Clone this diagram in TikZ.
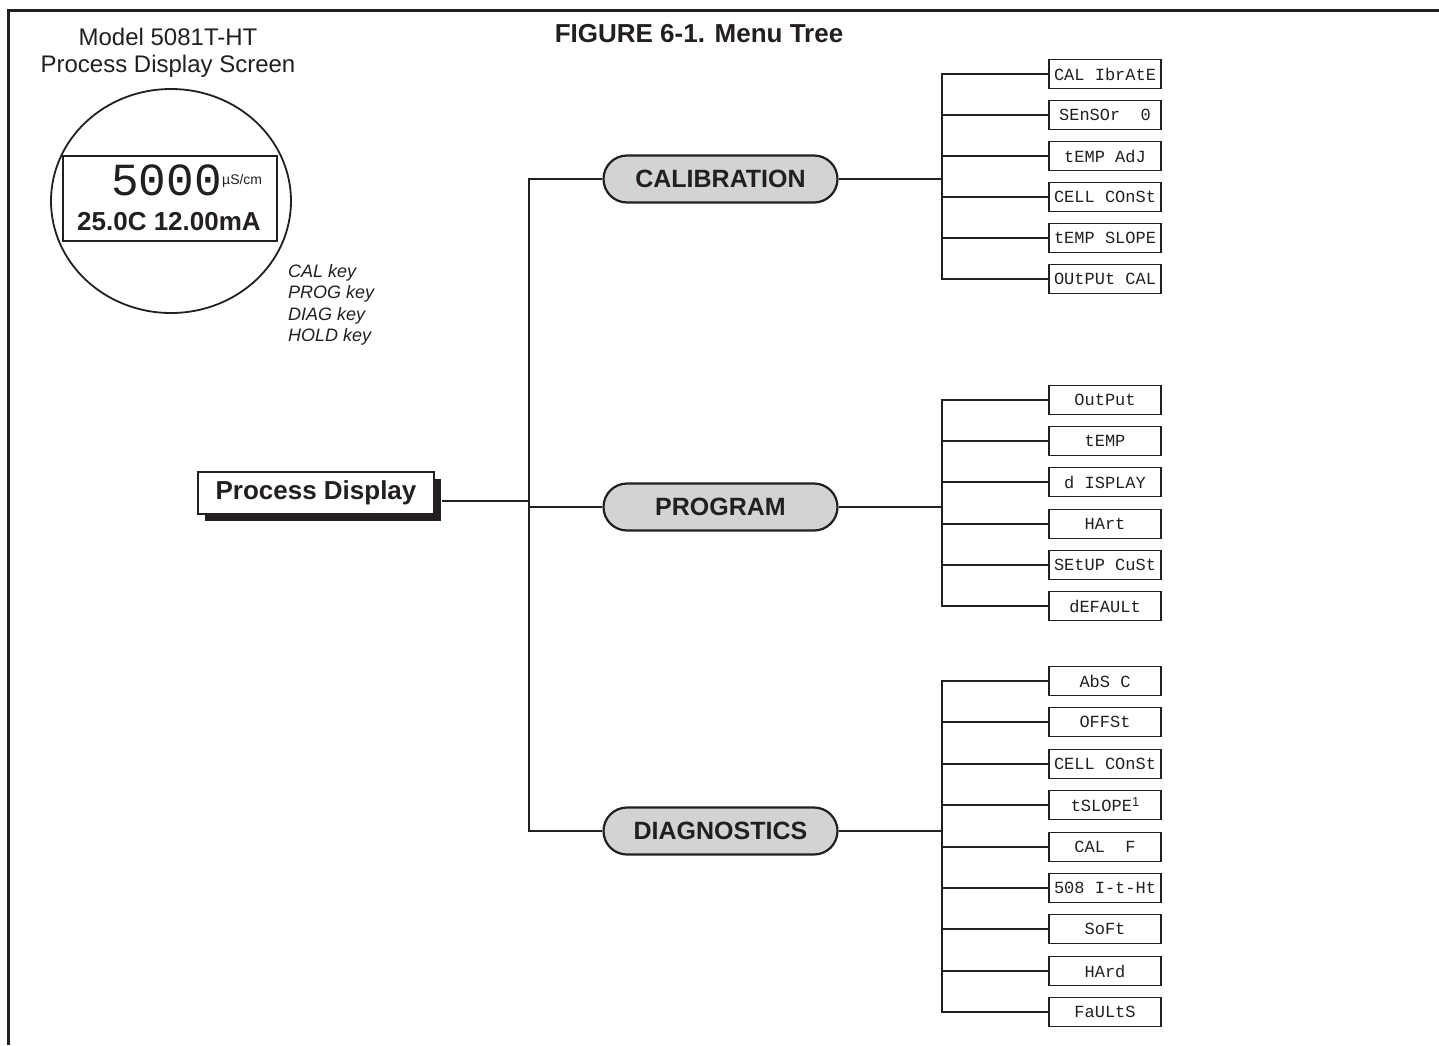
\documentclass[tikz,border=0pt]{standalone}
\usepackage{fontspec}
\setmainfont{Liberation Sans}
\newfontfamily\segfont{Liberation Mono}
\usetikzlibrary{shapes.misc,shadows}
\definecolor{ink}{HTML}{231F20}
\definecolor{pillgray}{HTML}{D1D3D4}
\begin{document}
\begin{tikzpicture}[x=1pt,y=-1pt,
  pill/.style={rounded rectangle, draw=ink, fill=pillgray, line width=2.2pt,
    minimum width=234pt, minimum height=47pt, inner sep=0pt,
    font=\bfseries\fontsize{25}{30}\selectfont, text=ink},
  leaf/.style={rectangle, draw=ink, line width=1.4pt, minimum width=112pt,
    minimum height=29pt, inner sep=0pt, font=\segfont\fontsize{17}{20}\selectfont, text=ink},
  tree/.style={draw=ink, line width=2.8pt},
  keytext/.style={anchor=base west, inner sep=0pt, font=\itshape\fontsize{18}{21}\selectfont, text=ink},
  ttl/.style={anchor=base, inner sep=0pt, font=\fontsize{24}{28}\selectfont, text=ink}]
\useasboundingbox (0,0) rectangle (1439,1045);
% frame
\draw[ink, line width=3pt] (1439,10) -- (8,10) -- (8,1045);
% titles
\node[ttl] (m1) at (168,45) {Model 5081T-HT};
\node[ttl] (m2) at (168,72) {Process Display Screen};
\node[ttl, font=\bfseries\fontsize{26}{30}\selectfont] (fig) at (699,42) {FIGURE 6-1. Menu Tree};
% display
\draw[ink, line width=1.8pt] (171,201) ellipse [x radius=120, y radius=112];
\node[draw=ink, fill=white, line width=2.2pt, minimum width=214pt, minimum height=85pt, inner sep=0pt] (scr) at (170,198.5) {};
\node[anchor=base east, inner sep=0pt, font=\segfont\fontsize{46}{50}\selectfont, text=ink] (val) at (222,195) {5000};
\node[anchor=base west, inner sep=0pt, font=\fontsize{14}{16}\selectfont, text=ink] (unit) at (222,184) {µS/cm};
\node[anchor=base, inner sep=0pt, font=\bfseries\fontsize{26}{30}\selectfont, text=ink] (line2) at (169,230) {25.0C 12.00mA};
% keys
\node[keytext] (k1) at (288,277) {CAL key};
\node[keytext] (k2) at (288,298) {PROG key};
\node[keytext] (k3) at (288,320) {DIAG key};
\node[keytext] (k4) at (288,341) {HOLD key};
% process display
\node[draw=ink, fill=white, line width=2pt, minimum width=236pt, minimum height=42pt, inner sep=0pt,
  general shadow={fill=ink, shadow xshift=7pt, shadow yshift=-7pt},
  font=\bfseries\fontsize{26}{30}\selectfont, text=ink] (pd) at (316,493) {Process Display};
% pills
\node[pill] (cal) at (720.5,179) {CALIBRATION};
\node[pill] (prog) at (720.5,507) {PROGRAM};
\node[pill] (diag) at (720.5,831) {DIAGNOSTICS};
% leaves
\node[leaf] (c1) at (1105,74) {CAL IbrAtE};
\node[leaf] (c2) at (1105,115) {SEnSOr\ \ 0};
\node[leaf] (c3) at (1105,156) {tEMP AdJ};
\node[leaf] (c4) at (1105,197) {CELL COnSt};
\node[leaf] (c5) at (1105,238) {tEMP SLOPE};
\node[leaf] (c6) at (1105,279) {OUtPUt CAL};
\node[leaf] (p1) at (1105,400) {OutPut};
\node[leaf] (p2) at (1105,441) {tEMP};
\node[leaf] (p3) at (1105,482) {d ISPLAY};
\node[leaf] (p4) at (1105,524) {HArt};
\node[leaf] (p5) at (1105,565) {SEtUP CuSt};
\node[leaf] (p6) at (1105,606) {dEFAULt};
\node[leaf] (d1) at (1105,681) {AbS C};
\node[leaf] (d2) at (1105,722) {OFFSt};
\node[leaf] (d3) at (1105,764) {CELL COnSt};
\node[leaf] (d4) at (1105,805) {tSLOPE{\rmfamily\fontsize{13}{14}\selectfont\raisebox{5pt}{1}}};
\node[leaf] (d5) at (1105,847) {CAL\ \ F};
\node[leaf] (d6) at (1105,888) {508 I-t-Ht};
\node[leaf] (d7) at (1105,929) {SoFt};
\node[leaf] (d8) at (1105,971) {HArd};
\node[leaf] (d9) at (1105,1012) {FaULtS};
% main connectors
\coordinate (j0) at (529,501);
\coordinate (bx) at (942,0);
\draw[tree] ([xshift=7pt,yshift=-8pt]pd.east) -- (j0);
\draw[tree] (cal.west) -- (cal.west -| j0) -- (diag.west -| j0) -- (diag.west);
\draw[tree] (prog.west) -- (prog.west -| j0);
% branch connectors
\draw[tree] (cal.east) -- (cal.east -| bx);
\draw[tree] (prog.east) -- (prog.east -| bx);
\draw[tree] (diag.east) -- (diag.east -| bx);
\draw[tree] (c1.west) -- (c1.west -| bx) -- (c6.west -| bx) -- (c6.west);
\draw[tree] (p1.west) -- (p1.west -| bx) -- (p6.west -| bx) -- (p6.west);
\draw[tree] (d1.west) -- (d1.west -| bx) -- (d9.west -| bx) -- (d9.west);
\foreach \n in {c2,c3,c4,c5,p2,p3,p4,p5,d2,d3,d4,d5,d6,d7,d8}
  \draw[tree] (\n.west -| bx) -- (\n.west);
\end{tikzpicture}
\end{document}
